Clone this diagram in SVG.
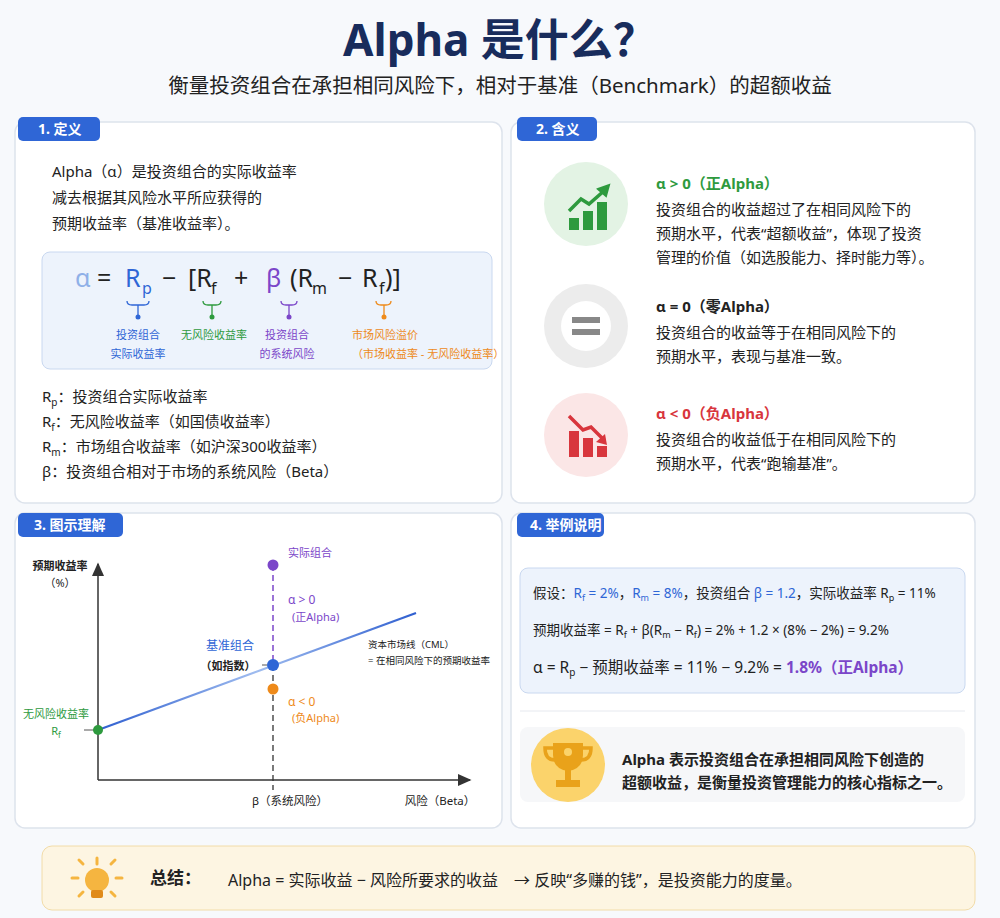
<svg xmlns="http://www.w3.org/2000/svg" width="1000" height="918" viewBox="0 0 1000 918">
<defs>
<style>
text{font-family:"Noto Sans","Noto Sans CJK SC",sans-serif;fill:#222}
.panel{fill:#fff;stroke:#dde3ec;stroke-width:1.5}
.tab{fill:#2f66d6}
.tabt{fill:#fff;font-size:14px;font-weight:bold}
.b{font-size:15px}
.s{font-size:11px}
.blue{fill:#2f66d6}.green{fill:#2e9a3e}.purple{fill:#7b46c9}.orange{fill:#ee8a1a}.red{fill:#d8363d}
.f{font-size:25px}.fs{font-size:16px}
</style>
<linearGradient id="cml" x1="0" x2="1"><stop offset="0" stop-color="#2f5fd0"/><stop offset="0.5" stop-color="#9fbcef"/><stop offset="1" stop-color="#2f5fd0"/></linearGradient>
<marker id="ah" markerWidth="10" markerHeight="10" refX="8" refY="5" orient="auto"><path d="M0,1 L9,5 L0,9z" fill="#333"/></marker>
</defs>
<rect width="1000" height="918" fill="#f7f9fc"/>
<text x="500" y="56" text-anchor="middle" font-size="44" font-weight="bold" style="fill:#182c5c">Alpha 是什么？</text>
<text x="500" y="93" text-anchor="middle" font-size="20.5">衡量投资组合在承担相同风险下，相对于基准（Benchmark）的超额收益</text>

<g id="panel1">
<rect class="panel" x="15" y="122" width="487" height="381" rx="10"/>
<rect class="tab" x="18" y="117" width="82" height="24" rx="5"/><text class="tabt" x="38" y="134">1. 定义</text>
<text class="b" x="52" y="177">Alpha（α）是投资组合的实际收益率</text>
<text class="b" x="52" y="203">减去根据其风险水平所应获得的</text>
<text class="b" x="52" y="229">预期收益率（基准收益率）。</text>
<rect x="42" y="252" width="450" height="117" rx="8" fill="#edf3fc" stroke="#c9d8f0"/>
<g class="f">
<text x="75" y="287" style="fill:#8fb0e8">α</text>
<text x="97" y="287">=</text>
<text x="125" y="287" class="blue">R</text><text x="142" y="294" class="fs blue">p</text>
<text x="162" y="287">−</text>
<text x="188" y="287">[R</text><text x="211" y="294" class="fs">f</text>
<text x="234" y="287">+</text>
<text x="266" y="287" class="purple">β</text>
<text x="290" y="287">(R</text><text x="312" y="294" class="fs">m</text>
<text x="338" y="287">−</text>
<text x="362" y="287">R</text><text x="379" y="294" class="fs">f</text><text x="385" y="287">)]</text>
</g>
<g fill="none" stroke-width="1.3">
<path d="M127,301 q0,4 5,4 h12 q5,0 5,-4 M138,305 v10" stroke="#2f66d6"/>
<path d="M203,301 q0,4 5,4 h8 q5,0 5,-4 M212,305 v10" stroke="#2e9a3e"/>
<path d="M281,301 q0,4 5,4 h6 q5,0 5,-4 M289,305 v10" stroke="#7b46c9"/>
<path d="M376,301 q0,4 5,4 h5 q5,0 5,-4 M384,305 v10" stroke="#ee8a1a"/>
</g>
<circle cx="138" cy="317" r="2.5" fill="#2f66d6"/><circle cx="212" cy="317" r="2.5" fill="#2e9a3e"/><circle cx="289" cy="317" r="2.5" fill="#7b46c9"/><circle cx="384" cy="317" r="2.5" fill="#ee8a1a"/>
<text class="s blue" x="138" y="339" text-anchor="middle">投资组合</text><text class="s blue" x="138" y="358" text-anchor="middle">实际收益率</text>
<text class="s green" x="214" y="339" text-anchor="middle">无风险收益率</text>
<text class="s purple" x="287" y="339" text-anchor="middle">投资组合</text><text class="s purple" x="287" y="358" text-anchor="middle">的系统风险</text>
<text class="s orange" x="352" y="339">市场风险溢价</text><text class="s orange" x="352" y="358">（市场收益率 - 无风险收益率）</text>
<text class="b" x="42" y="402">R<tspan font-size="10" dy="4">p</tspan><tspan dy="-4">：投资组合实际收益率</tspan></text>
<text class="b" x="42" y="427">R<tspan font-size="10" dy="4">f</tspan><tspan dy="-4">：无风险收益率（如国债收益率）</tspan></text>
<text class="b" x="42" y="452">R<tspan font-size="10" dy="4">m</tspan><tspan dy="-4">：市场组合收益率（如沪深300收益率）</tspan></text>
<text class="b" x="42" y="477">β：投资组合相对于市场的系统风险（Beta）</text>
</g>

<g id="panel2">
<rect class="panel" x="511" y="122" width="464" height="381" rx="10"/>
<rect class="tab" x="517" y="117" width="80" height="24" rx="5"/><text class="tabt" x="536" y="134">2. 含义</text>
<circle cx="586" cy="204" r="42" fill="#e3f3e4"/>
<g fill="#2e9a3e"><rect x="569" y="218" width="10" height="12"/><rect x="583" y="211" width="10" height="19"/><rect x="597" y="202" width="10" height="28"/></g>
<path d="M569,211 l12,-12 8,5 16,-14" fill="none" stroke="#2e9a3e" stroke-width="3.5"/><path d="M598,189 l11,-4 -3,11z" fill="#2e9a3e" stroke="#2e9a3e" stroke-width="2"/>
<circle cx="586" cy="326" r="42" fill="#ececec"/><circle cx="586" cy="326" r="25" fill="#fff"/>
<rect x="572" y="317" width="28" height="6" fill="#888"/><rect x="572" y="329" width="28" height="6" fill="#888"/>
<circle cx="586" cy="435" r="42" fill="#fbe6e6"/>
<g fill="#d8363d"><rect x="569" y="431" width="10" height="26"/><rect x="583" y="438" width="10" height="19"/><rect x="597" y="446" width="10" height="11"/></g>
<path d="M569,416 l14,14 8,-3 11,11" fill="none" stroke="#d8363d" stroke-width="3.5"/><path d="M596,442 l11,3 -2,-11z" fill="#d8363d"/>
<text class="b green" x="656" y="189" font-weight="bold">α &gt; 0（正Alpha）</text>
<text class="b" x="656" y="215">投资组合的收益超过了在相同风险下的</text>
<text class="b" x="656" y="239">预期水平，代表“超额收益”，体现了投资</text>
<text class="b" x="656" y="263">管理的价值（如选股能力、择时能力等）。</text>
<text class="b" x="656" y="312" font-weight="bold">α = 0（零Alpha）</text>
<text class="b" x="656" y="338">投资组合的收益等于在相同风险下的</text>
<text class="b" x="656" y="362">预期水平，表现与基准一致。</text>
<text class="b red" x="656" y="419" font-weight="bold">α &lt; 0（负Alpha）</text>
<text class="b" x="656" y="445">投资组合的收益低于在相同风险下的</text>
<text class="b" x="656" y="469">预期水平，代表“跑输基准”。</text>
</g>

<g id="panel3">
<rect class="panel" x="15" y="513" width="487" height="315" rx="10"/>
<rect class="tab" x="18" y="513" width="105" height="24" rx="5"/><text class="tabt" x="34" y="530">3. 图示理解</text>
<text x="60" y="570" text-anchor="middle" font-size="11" font-weight="bold">预期收益率</text>
<text x="60" y="587" text-anchor="middle" font-size="11">（%）</text>
<text x="440" y="805" text-anchor="middle" font-size="11.5">风险（Beta）</text>
<text x="290" y="805" text-anchor="middle" font-size="11.5">β（系统风险）</text>
<text class="s green" x="56" y="718" text-anchor="middle">无风险收益率</text>
<text class="s green" x="56" y="735" text-anchor="middle">R<tspan font-size="8" dy="3">f</tspan></text>
<text class="s purple" x="310" y="557" text-anchor="middle">实际组合</text>
<text class="purple" x="288" y="604" font-size="12">α &gt; 0</text><text class="s purple" x="292" y="621">(正Alpha)</text>
<text class="blue" x="230" y="650" text-anchor="middle" font-size="12">基准组合</text>
<text x="228" y="670" text-anchor="middle" font-size="11" font-weight="bold">（如指数）</text>
<text class="orange" x="288" y="706" font-size="12">α &lt; 0</text><text class="s orange" x="292" y="722">(负Alpha)</text>
<text x="368" y="648" font-size="9.5">资本市场线（CML）</text>
<text x="368" y="664" font-size="9.5">= 在相同风险下的预期收益率</text>
</g>

<g id="connectors">
<path d="M98,780 V564" stroke="#333" stroke-width="1.5" marker-end="url(#ah)" fill="none"/>
<path d="M98,780 H470" stroke="#333" stroke-width="1.5" marker-end="url(#ah)" fill="none"/>
<path d="M98,730 L416,613" stroke="url(#cml)" stroke-width="2.2"/>
<path d="M273,565 V665" stroke="#7b46c9" stroke-width="1.5" stroke-dasharray="6,4"/>
<path d="M273,665 V790" stroke="#333" stroke-width="1.3" stroke-dasharray="6,4"/>
<path d="M84,730 H98 M262,665 H267" stroke="#555" stroke-width="1"/>
</g>
<g id="points">
<circle cx="98" cy="730" r="5" fill="#2e9a3e"/>
<circle cx="273" cy="565" r="5.5" fill="#7b46c9"/>
<circle cx="273" cy="665" r="6" fill="#2f66d6"/>
<circle cx="273" cy="689" r="5.5" fill="#ee8a1a"/>
</g>

<g id="panel4">
<rect class="panel" x="511" y="513" width="464" height="315" rx="10"/>
<rect class="tab" x="517" y="513" width="87" height="24" rx="5"/><text class="tabt" x="530" y="530">4. 举例说明</text>
<rect x="520" y="568" width="445" height="125" rx="8" fill="#edf3fc" stroke="#c9d8f0"/>
<text x="533" y="598" font-size="13.5">假设：<tspan class="blue">R<tspan font-size="9" dy="3">f</tspan><tspan dy="-3"> = 2%</tspan></tspan>，<tspan class="blue">R<tspan font-size="9" dy="3">m</tspan><tspan dy="-3"> = 8%</tspan></tspan>，投资组合 <tspan class="blue">β = 1.2</tspan>，实际收益率 R<tspan font-size="9" dy="3">p</tspan><tspan dy="-3"> = 11%</tspan></text>
<text x="533" y="635" font-size="13.5">预期收益率 = R<tspan font-size="9" dy="3">f</tspan><tspan dy="-3"> + β(R</tspan><tspan font-size="9" dy="3">m</tspan><tspan dy="-3"> − R</tspan><tspan font-size="9" dy="3">f</tspan><tspan dy="-3">) = 2% + 1.2 × (8% − 2%) = 9.2%</tspan></text>
<text x="533" y="673" font-size="15.5">α = R<tspan font-size="10" dy="3">p</tspan><tspan dy="-3"> − 预期收益率 = 11% − 9.2% = </tspan><tspan class="purple" font-weight="bold">1.8%（正Alpha）</tspan></text>
<line x1="520" y1="711" x2="965" y2="711" stroke="#e6e9ef"/>
<rect x="520" y="727" width="445" height="75" rx="8" fill="#f6f7f9"/>
<circle cx="568" cy="765" r="37" fill="#fbd36b"/>
<path d="M553,743 h30 v12 q0,14 -15,16 q-15,-2 -15,-16z" fill="#e9a21a"/>
<path d="M553,748 h-8 q0,12 10,12 M583,748 h8 q0,12 -10,12" fill="none" stroke="#e9a21a" stroke-width="3.5"/>
<rect x="565" y="770" width="6" height="10" fill="#e9a21a"/><rect x="556" y="780" width="24" height="7" fill="#e9a21a"/>
<circle cx="568" cy="752" r="4" fill="#fbd36b"/>
<text x="622" y="765" font-size="15" font-weight="bold">Alpha 表示投资组合在承担相同风险下创造的</text>
<text x="622" y="788" font-size="15" font-weight="bold">超额收益，是衡量投资管理能力的核心指标之一。</text>
</g>

<g id="summary">
<rect x="42" y="846" width="933" height="64" rx="10" fill="#fdf5e2" stroke="#f2dca8"/>
<g stroke="#f5b540" stroke-width="3" stroke-linecap="round"><path d="M97,858 v6 M78,878 h-6 M122,878 h-6 M83,864 l-4,-4 M111,864 l4,-4 M83,892 l-4,4 M111,892 l4,4"/></g>
<circle cx="97" cy="880" r="12" fill="#f5b540"/><rect x="91" y="890" width="12" height="8" rx="2" fill="#e08a1a"/>
<text x="150" y="884" font-size="17" font-weight="bold">总结：</text>
<text x="228" y="886" font-size="16">Alpha = 实际收益 − 风险所要求的收益　→ 反映“多赚的钱”，是投资能力的度量。</text>
</g>
</svg>
